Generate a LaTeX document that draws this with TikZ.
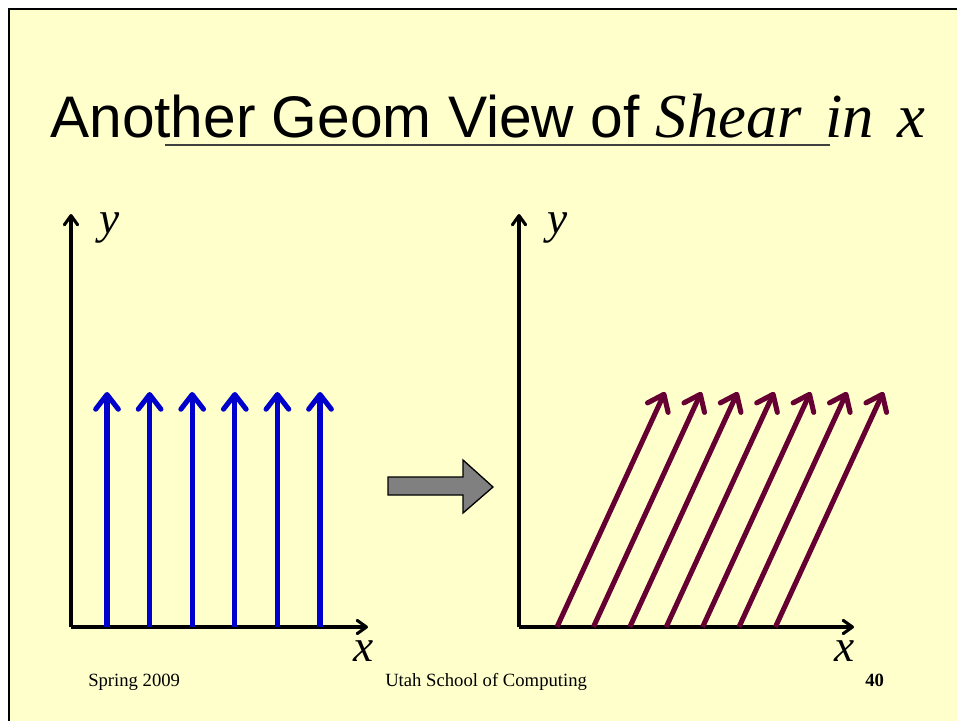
\documentclass[tikz,border=0pt]{standalone}
\usepackage{fontspec}
\setmainfont{Liberation Serif}
\newfontfamily\arialfont{Liberation Sans}
\usetikzlibrary{arrows.meta}
\definecolor{slidebg}{RGB}{255,255,204}
\definecolor{shearblue}{RGB}{0,0,204}
\definecolor{shearred}{RGB}{102,0,51}
\definecolor{blockgray}{RGB}{128,128,128}

\begin{document}
\begin{tikzpicture}[x=0.75pt,y=-0.75pt,
    axis/.style={line width=2.3pt, -{Straight Barb[length=7pt,width=10pt,round]}},
    vecarr/.style={line width=3.8pt, -{Straight Barb[length=11pt,width=17pt,round]}},
    axlabel/.style={anchor=base, font=\fontsize{34}{34}\selectfont\itshape, inner sep=0pt},
    foot/.style={anchor=base west, font=\fontsize{14}{14}\selectfont, inner sep=0pt}
  ]
  \useasboundingbox (0,0) rectangle (957,721);
  \clip (0,0) rectangle (957,721);
  % slide frame
  \fill[white] (0,0) rectangle (957,721);
  \draw[fill=slidebg, line width=2.2pt] (9,9) rectangle (980,740);

  % title
  \node[anchor=base west, inner sep=0pt] (title) at (50,137)
    {\fontsize{44}{44}\selectfont\arialfont Another Geom View of
     \fontsize{47}{47}\selectfont\rmfamily\itshape Shear\hspace{6pt} in\hspace{6pt} x};
  \draw[line width=1.6pt, black!75] (165,145) -- (830,145);

  % left: before shear
  \coordinate (o1) at (71,627);
  \draw[axis] (o1) -- ++(0,-413) coordinate (y1);
  \draw[axis] (o1) -- ++(297,0) coordinate (x1);
  \node[axlabel] (ylab1) at (110,233) {y};
  \node[axlabel] (xlab1) at (364,661) {x};
  \foreach \i in {0,...,5}
    \draw[vecarr, shearblue] (107+42.6*\i,627) -- ++(0,-235);

  % block arrow
  \draw[fill=blockgray, line width=1pt, line join=miter]
    (388,477) -- (463,477) -- (463,460) -- (493,487) -- (463,513)
    -- (463,495) -- (388,495) -- cycle;

  % right: after shear
  \coordinate (o2) at (519,627);
  \draw[axis] (o2) -- ++(0,-413) coordinate (y2);
  \draw[axis] (o2) -- ++(335,0) coordinate (x2);
  \node[axlabel] (ylab2) at (558,233) {y};
  \node[axlabel] (xlab2) at (845,661) {x};
  \foreach \i in {0,...,6}
    \draw[vecarr, shearred] (557+36.4*\i,627) -- ++(108,-235);

  % footer
  \node[foot] (date) at (88,686) {Spring 2009};
  \node[foot] (school) at (385,686) {Utah School of Computing};
  \node[foot, font=\fontsize{14}{14}\selectfont\bfseries] (page) at (865,686) {40};
\end{tikzpicture}
\end{document}
